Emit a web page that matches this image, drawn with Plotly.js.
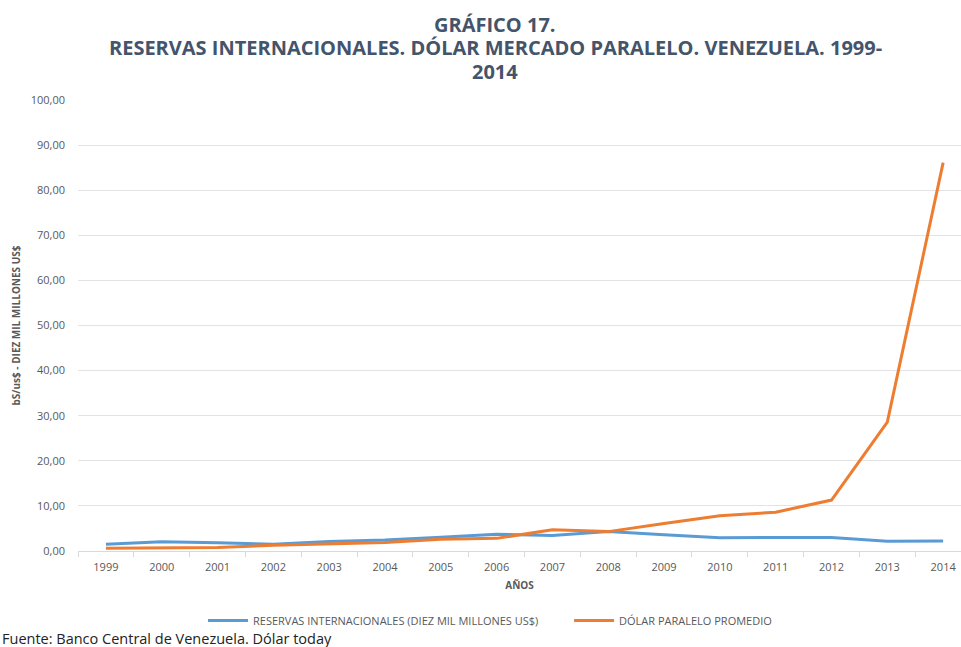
<!DOCTYPE html>
<html><head><meta charset="utf-8">
<script src="https://cdn.plot.ly/plotly-3.0.1.min.js"></script>
<style>body{margin:0;background:#fff}#c{width:961px;height:647px}</style>
</head><body><div id="c"></div>
<script>
const years = ["1999","2000","2001","2002","2003","2004","2005","2006","2007","2008","2009","2010","2011","2012","2013","2014"];
const reservas = [1.52,2.05,1.85,1.49,2.13,2.42,3.04,3.74,3.43,4.31,3.58,2.95,2.99,2.99,2.15,2.21];
const dolar = [0.6,0.7,0.8,1.25,1.6,1.9,2.6,2.8,4.7,4.3,6.1,7.8,8.6,11.3,28.6,86.1];
const seriesNames = ["RESERVAS INTERNACIONALES (DIEZ MIL MILLONES US$)","DÓLAR PARALELO PROMEDIO"];
const titleLines = ["GRÁFICO 17.","RESERVAS INTERNACIONALES. DÓLAR MERCADO PARALELO. VENEZUELA. 1999-","2014"];

const font = "Open Sans, Liberation Sans, sans-serif";
const pad = "\u00a0".repeat(9);
const data = [
  {x: years, y: reservas, name: seriesNames[0] + pad, type: "scatter", mode: "lines",
   line: {color: "#5B9BD5", width: 3}},
  {x: years, y: dolar, name: seriesNames[1], type: "scatter", mode: "lines",
   line: {color: "#ED7D31", width: 3}}
];
const titleY = [24, 47, 71];
const annotations = titleLines.map((t, i) => ({
  text: "<b>" + t + "</b>", xref: "paper", yref: "paper",
  x: (495 - 78) / 883, xanchor: "center",
  y: 1 + (100 - titleY[i]) / 451, yanchor: "middle", showarrow: false,
  font: {family: font, size: 20, color: "#44546A"}
}));
annotations.push({text: "Fuente: Banco Central de Venezuela. Dólar today", xref: "paper", yref: "paper",
  x: -78/883, xanchor: "left", y: -(638 - 551) / 451, yanchor: "middle", showarrow: false,
  font: {size: 14.5, color: "#222", family: font}});

const layout = {
  width: 961, height: 647,
  margin: {l: 78, r: 0, t: 100, b: 96},
  paper_bgcolor: "#fff", plot_bgcolor: "#fff",
  separators: ",.",
  font: {family: font, color: "#595959", size: 11},
  xaxis: {type: "category", range: [-0.5, 15.32], tickson: "boundaries", ticks: "outside", ticklen: 5, tickcolor: "#D9D9D9",
          showline: true, linecolor: "#D9D9D9", linewidth: 1, showgrid: false, zeroline: false,
          ticklabelstandoff: 6,
          tickfont: {size: 11, color: "#595959"},
          title: {text: "<b>AÑOS</b>", font: {size: 10, color: "#595959"}, standoff: 8}},
  yaxis: {range: [0, 100], dtick: 10, tickformat: ".2f", showgrid: true, gridcolor: "#E3E3E3",
          zeroline: false, showline: false, ticks: "", ticklen: 0, ticklabelstandoff: 12,
          tickfont: {size: 11, color: "#595959"},
          title: {text: "<b>bS/us$ - DIEZ MIL MILLONES US$</b>", font: {size: 10, color: "#595959"}, standoff: 8}},
  legend: {orientation: "h", x: (490 - 78) / 883, xanchor: "center", y: -0.122, yanchor: "top",
           font: {size: 11, color: "#595959"}, itemwidth: 40, traceorder: "normal"},
  showlegend: true,
  annotations: annotations
};
Plotly.newPlot("c", data, layout, {displayModeBar: false});
</script></body></html>
